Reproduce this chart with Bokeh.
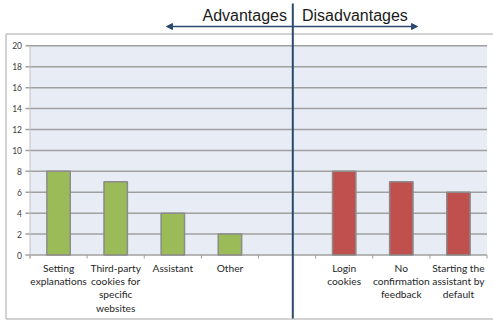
from bokeh.plotting import figure
from bokeh.models import Range1d, Arrow, NormalHead, ColumnDataSource
from bokeh.core.properties import value
from bokeh.embed import file_html
from bokeh.resources import INLINE

# ---- data ----
categories = ["Setting\nexplanations", "Third-party\ncookies for\nspecific\nwebsites",
              "Assistant", "Other", "",
              "Login\ncookies", "No\nconfirmation\nfeedback", "Starting the\nassistant by\ndefault"]
values = [8, 7, 4, 2, 0, 8, 7, 6]
groups = ["adv", "adv", "adv", "adv", "none", "dis", "dis", "dis"]
y_ticks = [0, 2, 4, 6, 8, 10, 12, 14, 16, 18, 20]
header_left = "Advantages"
header_right = "Disadvantages"

W, H = 493, 322
# plot area in pixels
PL, PR = 29.5, 486.5
Y0PX, Y20PX = 254.5, 45.3
ncat = len(categories)
sx = (PR - PL) / ncat
sy = (Y0PX - Y20PX) / 20.0
x_start = -PL / sx
x_end = ncat + (W - PR) / sx
y_end = 20 + Y20PX / sy
y_start = -(H - Y0PX) / sy

def px2x(px):
    return x_start + px / sx

def px2y(py):
    return y_end - py / sy

p = figure(width=W, height=H, x_range=Range1d(x_start, x_end), y_range=Range1d(y_start, y_end),
           output_backend="svg", toolbar_location=None, min_border=0,
           x_axis_type=None, y_axis_type=None)
p.grid.visible = False
p.outline_line_color = None
p.background_fill_color = "white"
p.border_fill_color = "white"

# outer frame
p.quad(left=[px2x(5.5)], right=[px2x(520)], top=[px2y(33.5)], bottom=[px2y(318.5)],
       fill_color=None, line_color="#a6a6a6", line_width=1)

# plot background
p.quad(left=[0], right=[ncat], bottom=[0], top=[20], fill_color="#e8ecf4", line_color=None)

# gridlines (incl. tick extensions to the left)
p.segment(x0=[px2x(25)] * len(y_ticks), x1=[ncat] * len(y_ticks), y0=y_ticks, y1=y_ticks,
          line_color="#a0a0a0", line_width=1.5)
# y axis line
p.segment(x0=[0], x1=[0], y0=[px2y(258)], y1=[20], line_color="#c0c0c0", line_width=1)
# x ticks
xt = list(range(ncat + 1))
p.segment(x0=xt, x1=xt, y0=[0] * len(xt), y1=[px2y(258)] * len(xt), line_color="#a0a0a0", line_width=1)

# y tick labels
p.text(x=[px2x(21.5)] * len(y_ticks), y=y_ticks, text=[str(t) for t in y_ticks],
       text_align="right", text_baseline="middle", text_font=value("Lato"),
       text_font_size="8.5px", text_color="#404040")

# bars
colors = {"adv": "#9bbb59", "dis": "#c0504d", "none": "#ffffff"}
centers = [i + 0.5 for i in range(ncat)]
src = ColumnDataSource(dict(x=[c for c, g in zip(centers, groups) if g != "none"],
                            top=[v for v, g in zip(values, groups) if g != "none"],
                            color=[colors[g] for g in groups if g != "none"]))
p.vbar(x="x", top="top", bottom=0, width=0.41, source=src, fill_color="color",
       line_color="#8c8c8c", line_width=1.5)

# category labels
p.text(x=centers, y=[px2y(261)] * ncat, text=categories, text_align="center",
       text_baseline="top", text_font=value("Lato"), text_font_size="10.2px",
       text_color="#262626", text_line_height=1.12)

# divider line
div_x = px2x(292.3)
p.segment(x0=[div_x], x1=[div_x], y0=[px2y(3)], y1=[px2y(318)], line_color="#2c4a6e", line_width=2)

# header arrows
ay = px2y(26)
p.add_layout(Arrow(x_start=div_x, y_start=ay, x_end=px2x(417), y_end=ay,
                   line_color="#2c4a6e", line_width=1.5,
                   end=NormalHead(size=6, fill_color="#2c4a6e", line_color="#2c4a6e")))
p.add_layout(Arrow(x_start=div_x, y_start=ay, x_end=px2x(166), y_end=ay,
                   line_color="#2c4a6e", line_width=1.5,
                   end=NormalHead(size=6, fill_color="#2c4a6e", line_color="#2c4a6e")))

# header texts
p.text(x=[px2x(286.5)], y=[px2y(15)], text=[header_left], text_align="right",
       text_baseline="alphabetic", text_font=value("Liberation Sans"), text_font_size="16px",
       text_color="#1a1a1a")
p.text(x=[px2x(301.5)], y=[px2y(15)], text=[header_right], text_align="left",
       text_baseline="alphabetic", text_font=value("Liberation Sans"), text_font_size="16px",
       text_color="#1a1a1a")

open("out.html", "w").write(file_html(p, INLINE))
